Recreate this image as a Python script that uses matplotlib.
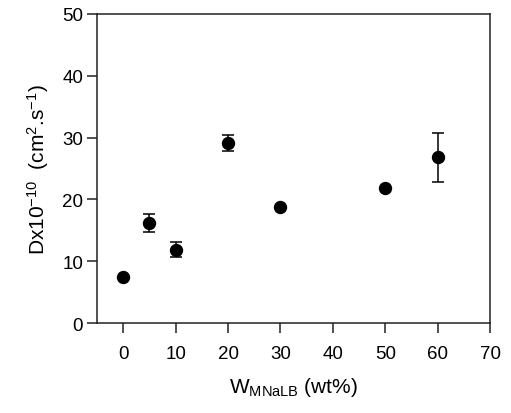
import matplotlib
matplotlib.use('Agg')
import matplotlib.pyplot as plt

# datos
w_mnalb = [0, 5, 10, 20, 30, 50, 60]
dx = [7.4, 16.2, 11.9, 29.2, 18.8, 21.8, 26.8]
dx_err = [0, 1.4, 1.2, 1.3, 0, 0, 3.9]

x_ticks = [0, 10, 20, 30, 40, 50, 60, 70]
y_ticks = [0, 10, 20, 30, 40, 50]

plt.rcParams['font.family'] = ['Liberation Sans', 'DejaVu Sans']
plt.rcParams['mathtext.default'] = 'regular'

fig = plt.figure(figsize=(5.11, 4.14), dpi=100)
ax = fig.add_axes([0.190, 0.217, 0.769, 0.747])

ax.errorbar(w_mnalb, dx, yerr=dx_err, fmt='o', color='black', markersize=8.6,
            ecolor='black', elinewidth=1.1, capsize=4.3, capthick=1.1)

ax.set_xlim(-5, 70)
ax.set_ylim(0, 50)
ax.set_xticks(x_ticks)
ax.set_yticks(y_ticks)

for s in ax.spines.values():
    s.set_linewidth(1.1)
    s.set_color('#222222')
ax.tick_params(direction='out', length=7, width=1.1, color='#222222',
               labelsize=13.5, pad=3)
ax.tick_params(axis='x', pad=9)

ax.set_xlabel('W$_{MNaLB}$ (wt%)', fontsize=15, labelpad=9)
ax.set_ylabel('Dx10$^{-10}$  (cm$^{2}$.s$^{-1}$)', fontsize=15, labelpad=8)

fig.savefig('out.png', dpi=100)
